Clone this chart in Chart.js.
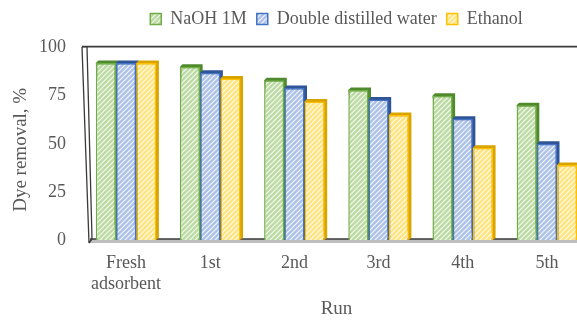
<!DOCTYPE html>
<html>
<head>
<meta charset="utf-8">
<script src="https://cdn.jsdelivr.net/npm/chart.js@4.4.1/dist/chart.umd.min.js"></script>
<style>
  html, body { margin: 0; padding: 0; background: #fff; overflow: hidden; }
  #wrap { position: relative; width: 600px; height: 320px; }
</style>
</head>
<body>
<div id="wrap"><canvas id="c"></canvas></div>
<script>
// Regeneration runs and dye removal (%) for each eluent
const runs = [["Fresh", "adsorbent"], "1st", "2nd", "3rd", "4th", "5th"];
const naoh = [92, 90, 83, 78, 75, 70];
const ddWater = [92, 87, 79, 73, 63, 50];
const ethanol = [92, 84, 72, 65, 48, 39];
const yTicks = [0, 25, 50, 75, 100];
const yTitle = 'Dye removal, %';

const FONT = "'Liberation Serif', 'Times New Roman', serif";
const TEXT = '#595959';

// Diagonal hatch fill
function hatch(bg, stripe) {
  const s = 5;
  const c = document.createElement('canvas');
  c.width = s; c.height = s;
  const g = c.getContext('2d');
  g.fillStyle = bg; g.fillRect(0, 0, s, s);
  g.strokeStyle = stripe; g.lineWidth = 1.2;
  g.beginPath();
  g.moveTo(0, s); g.lineTo(s, 0);
  g.moveTo(-1, 1); g.lineTo(1, -1);
  g.moveTo(s - 1, s + 1); g.lineTo(s + 1, s - 1);
  g.stroke();
  return g.createPattern(c, 'repeat');
}

const series = [
  { label: 'NaOH 1M', data: naoh, fill: '#bcdba3', edge: '#70ad47', side: '#4f8a2c' },
  { label: 'Double distilled water', data: ddWater, fill: '#adc2e8', edge: '#4472c4', side: '#2f5597' },
  { label: 'Ethanol', data: ethanol, fill: '#ffe47f', edge: '#ffc000', side: '#d9a300' }
];

// Depth faces behind each bar for the raised look
const depthPlugin = {
  id: 'depth',
  beforeDatasetsDraw(chart) {
    const ctx = chart.ctx, d = 2.5;
    chart.data.datasets.forEach((ds, i) => {
      chart.getDatasetMeta(i).data.forEach(bar => {
        const l = bar.x - bar.width / 2, r = bar.x + bar.width / 2;
        const t = bar.y, b = bar.base;
        ctx.save();
        ctx.fillStyle = ds.sideColor;
        ctx.beginPath();
        ctx.moveTo(l, t); ctx.lineTo(l + d, t - d); ctx.lineTo(r + d, t - d);
        ctx.lineTo(r + d, b - d); ctx.lineTo(r, b); ctx.closePath();
        ctx.fill();
        ctx.restore();
      });
    });
  }
};

// Back wall frame and floor
const framePlugin = {
  id: 'frame',
  beforeDatasetsDraw(chart) {
    const ctx = chart.ctx, a = chart.chartArea;
    const yTop = chart.scales.y.getPixelForValue(100) - 1;
    const yBot = chart.scales.y.getPixelForValue(0);
    ctx.save();
    // floor
    ctx.fillStyle = '#bfbfbf';
    ctx.beginPath();
    ctx.moveTo(a.left + 6, yBot - 1); ctx.lineTo(a.right + 20, yBot - 1);
    ctx.lineTo(a.right + 20, yBot + 3); ctx.lineTo(a.left + 4, yBot + 3);
    ctx.closePath(); ctx.fill();
    ctx.strokeStyle = '#3a3a3a'; ctx.lineWidth = 1.3;
    ctx.beginPath();
    ctx.moveTo(a.left + 6, yBot - 1); ctx.lineTo(a.right + 20, yBot - 1);
    ctx.stroke();
    // back wall top edge
    ctx.lineWidth = 1.6;
    ctx.beginPath();
    ctx.moveTo(a.left - 2, yTop); ctx.lineTo(a.right + 20, yTop);
    ctx.stroke();
    // side wall
    ctx.lineWidth = 1.3;
    ctx.beginPath();
    ctx.moveTo(a.left - 2, yTop); ctx.lineTo(a.left + 5, yBot + 3);
    ctx.moveTo(a.left + 3, yTop); ctx.lineTo(a.left + 8, yBot - 1);
    ctx.moveTo(a.left - 2, yTop); ctx.lineTo(a.left + 3, yTop);
    ctx.moveTo(a.left + 5, yBot + 3); ctx.lineTo(a.left + 8, yBot - 1);
    ctx.stroke();
    ctx.restore();
  }
};

// Vertical axis title, centred on the wall including its top edge
const yTitlePlugin = {
  id: 'yTitle',
  afterDraw(chart) {
    const ctx = chart.ctx, y = chart.scales.y;
    const cy = (y.getPixelForValue(100) + y.getPixelForValue(0)) / 2 + 6;
    ctx.save();
    ctx.translate(21, cy);
    ctx.rotate(-Math.PI / 2);
    ctx.font = "19px " + FONT;
    ctx.fillStyle = TEXT;
    ctx.textAlign = 'center';
    ctx.textBaseline = 'middle';
    ctx.fillText(yTitle, 0, 0);
    ctx.restore();
  }
};

new Chart(document.getElementById('c'), {
  type: 'bar',
  data: {
    labels: runs,
    datasets: series.map(s => ({
      label: s.label,
      data: s.data,
      backgroundColor: hatch(s.fill, 'rgba(255,255,255,0.85)'),
      borderColor: s.edge,
      borderWidth: 1.5,
      sideColor: s.side,
      categoryPercentage: 0.72,
      barPercentage: 1.0
    }))
  },
  options: {
    responsive: true,
    maintainAspectRatio: false,
    animation: false,
    layout: { padding: { top: 0, right: 11, left: 0, bottom: 0 } },
    plugins: {
      tooltip: { enabled: false },
      legend: {
        position: 'top',
        fullSize: false,
        labels: {
          color: TEXT,
          font: { family: FONT, size: 18 },
          boxWidth: 11,
          boxHeight: 11,
          padding: 10
        }
      }
    },
    scales: {
      x: {
        grid: { display: false, drawTicks: false },
        border: { display: false },
        ticks: { color: TEXT, font: { family: FONT, size: 18 }, padding: 12, maxRotation: 0 },
        title: { display: true, text: 'Run', color: TEXT, font: { family: FONT, size: 19 }, padding: { top: 2, bottom: 0 } },
        afterFit(scale) { scale.height = 80; }
      },
      y: {
        min: 0,
        max: 105,
        afterBuildTicks(scale) { scale.ticks = yTicks.map(v => ({ value: v })); },
        grid: { display: false, drawTicks: false },
        border: { display: false },
        ticks: { color: TEXT, font: { family: FONT, size: 18 }, padding: 18 },
        afterFit(scale) { scale.width = 84; }
      }
    }
  },
  plugins: [framePlugin, depthPlugin, yTitlePlugin]
});
</script>
</body>
</html>
